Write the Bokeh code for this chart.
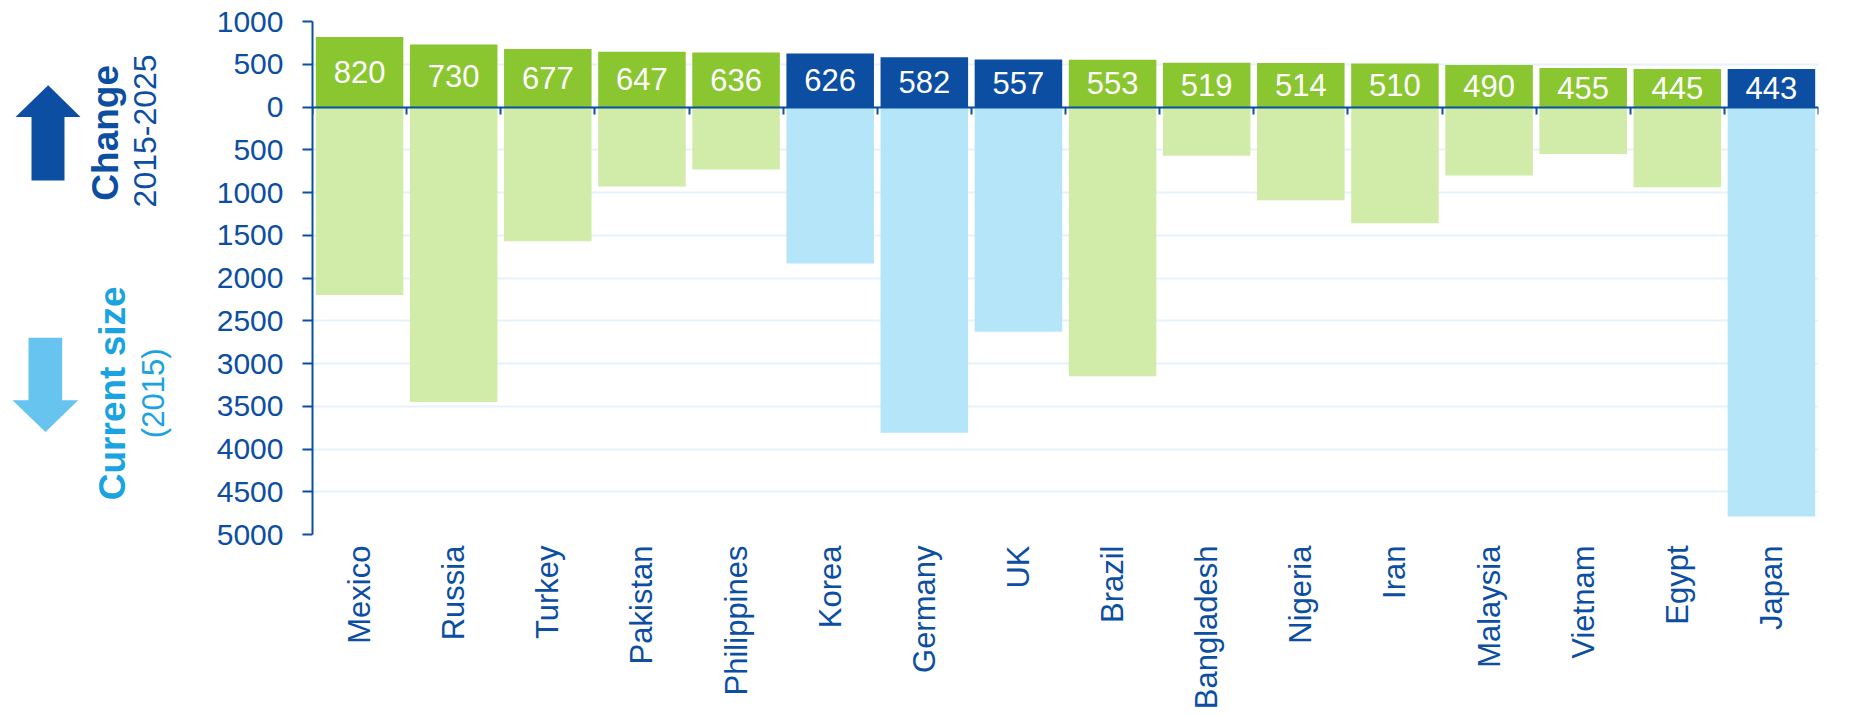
import math
from bokeh.plotting import figure
from bokeh.models import Range1d, FixedTicker, LinearAxis, ColumnDataSource, Grid, CustomJSTickFormatter
from bokeh.layouts import row
from bokeh.embed import file_html
from bokeh.resources import INLINE
from bokeh.core.properties import value

# ---- data ----
countries = ["Mexico", "Russia", "Turkey", "Pakistan", "Philippines", "Korea", "Germany", "UK",
             "Brazil", "Bangladesh", "Nigeria", "Iran", "Malaysia", "Vietnam", "Egypt", "Japan"]
change = [820, 730, 677, 647, 636, 626, 582, 557, 553, 519, 514, 510, 490, 455, 445, 443]
current_size = [2200, 3450, 1570, 930, 730, 1830, 3810, 2630, 3150, 570, 1090, 1360, 800, 550, 940, 4790]
highlight = ["Korea", "Germany", "UK", "Japan"]
y_ticks = [-5000, -4500, -4000, -3500, -3000, -2500, -2000, -1500, -1000, -500, 0, 500, 1000]

# ---- styles ----
FONT = "Liberation Sans"
DARK = "#0B4EA2"
GREEN = "#8AC630"
LIGHTGREEN = "#D1ECA9"
LIGHTBLUE = "#B5E5F8"
ARROW_LIGHT = "#66C4EE"
CYAN_TEXT = "#1AA3E1"
GRID = "#E6F2FB"

n = len(countries)
xs = [i + 0.5 for i in range(n)]
src = ColumnDataSource(dict(
    x=xs,
    change=change,
    neg=[-v for v in current_size],
    mid=[v / 2 for v in change],
    label=[str(v) for v in change],
    tc=[DARK if c in highlight else GREEN for c in countries],
    bc=[LIGHTBLUE if c in highlight else LIGHTGREEN for c in countries],
))

H = 712
LW = 188
TOP = 21
BOTTOM = 175
FRAME_TOP = TOP
FRAME_BOTTOM = H - BOTTOM

# ---- left annotation figure (page pixel coordinates) ----
lf = figure(width=LW, height=H, x_range=Range1d(0, LW), y_range=Range1d(FRAME_BOTTOM, FRAME_TOP),
            output_backend="svg", toolbar_location=None,
            min_border_left=0, min_border_right=0, min_border_top=TOP, min_border_bottom=BOTTOM,
            x_axis_location=None, y_axis_location=None, outline_line_color=None)
lf.xgrid.visible = False
lf.ygrid.visible = False

up_x = [47.7, 80, 64, 64, 31, 31, 15]
up_y = [85, 117, 117, 181, 181, 117, 117]
dn_x = [45, 77.7, 61.7, 61.7, 28, 28, 12]
dn_y = [434, 402, 402, 339, 339, 402, 402]
lf.patch(up_x, up_y, fill_color=DARK, line_color=None)
lf.patch(dn_x, dn_y, fill_color=ARROW_LIGHT, line_color=None)

def vtext(x, y, t, color, size, bold=False):
    lf.text(x=[x], y=[y], text=[t], angle=math.pi / 2, text_align="center",
            text_baseline="alphabetic", text_color=color, text_font=value(FONT),
            text_font_size=size, text_font_style="bold" if bold else "normal")

vtext(105, 133, "Change", DARK, "37px", bold=True)
vtext(144, 131, "2015-2025", DARK, "32px")
vtext(112, 395, "Current size", CYAN_TEXT, "37px", bold=True)
vtext(153, 395, "(2015)", CYAN_TEXT, "31px")

# ---- main chart ----
p = figure(width=1842 - LW, height=H, x_range=Range1d(0, n), y_range=Range1d(-5000, 1000),
           output_backend="svg", toolbar_location=None,
           min_border_left=124, min_border_right=24, min_border_top=TOP, min_border_bottom=BOTTOM,
           x_axis_location=None, y_axis_location=None, outline_line_color=None)
p.xgrid.visible = False
p.ygrid.visible = False

grid = Grid(dimension=1, ticker=FixedTicker(ticks=y_ticks), grid_line_color=GRID, grid_line_width=2)
p.add_layout(grid)

p.vbar(x="x", top="change", bottom=0, width=0.93, fill_color="tc", line_color=None, source=src)
p.vbar(x="x", top=0, bottom="neg", width=0.93, fill_color="bc", line_color=None, source=src)
p.text(x="x", y="mid", text="label", text_align="center", text_baseline="middle",
       text_color="white", text_font=value(FONT), text_font_size="31px", source=src)

yax = LinearAxis(ticker=FixedTicker(ticks=y_ticks),
                 formatter=CustomJSTickFormatter(code="return Math.abs(tick).toString();"))
yax.axis_line_color = DARK
yax.axis_line_width = 2
yax.major_tick_line_color = DARK
yax.major_tick_line_width = 2
yax.major_tick_out = 10
yax.major_tick_in = 0
yax.minor_tick_line_color = None
yax.major_label_standoff = 19
yax.major_label_text_font = FONT
yax.major_label_text_font_size = "30px"
yax.major_label_text_color = DARK
p.add_layout(yax, "left")

xlab = LinearAxis(ticker=FixedTicker(ticks=xs),
                  formatter=CustomJSTickFormatter(args=dict(names=countries),
                                                  code="return names[Math.floor(tick)] || '';"))
xlab.axis_line_color = None
xlab.major_tick_line_color = None
xlab.minor_tick_line_color = None
xlab.major_tick_out = 0
xlab.major_tick_in = 0
xlab.major_label_standoff = 11
xlab.major_label_orientation = math.pi / 2
xlab.major_label_text_font = FONT
xlab.major_label_text_font_size = "31px"
xlab.major_label_text_color = DARK
p.add_layout(xlab, "below")

zero_ax = LinearAxis(ticker=FixedTicker(ticks=list(range(n + 1))), fixed_location=0,
                     formatter=CustomJSTickFormatter(code="return '';"))
zero_ax.axis_line_color = DARK
zero_ax.axis_line_width = 2
zero_ax.major_tick_line_color = DARK
zero_ax.major_tick_line_width = 2
zero_ax.major_tick_out = 0
zero_ax.major_tick_in = 7
zero_ax.minor_tick_line_color = None
zero_ax.major_label_standoff = 0
p.add_layout(zero_ax, "above")

layout = row(lf, p)
open("out.html", "w").write(file_html(layout, INLINE))
